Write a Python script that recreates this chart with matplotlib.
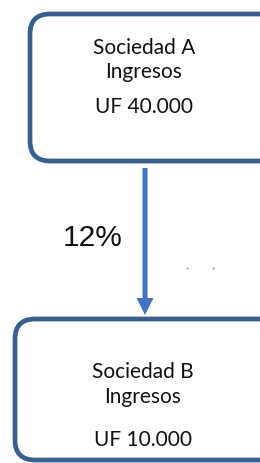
import matplotlib.pyplot as plt
from matplotlib.patches import FancyBboxPatch, FancyArrow

# datos del diagrama
box_titles = ["Sociedad A", "Sociedad B"]
box_subtitles = ["Ingresos", "Ingresos"]
box_values = ["UF 40.000", "UF 10.000"]
flow_label = "12%"

BORDER = "#3A5E8D"
ARROW = "#4472C4"


def draw_box(ax, x0, y0, x1, y1, title, sub, value, ys):
    box = FancyBboxPatch((x0, y0), x1 - x0, y1 - y0,
                         boxstyle="round,pad=0,rounding_size=20",
                         fc="white", ec=BORDER, lw=3.4)
    ax.add_patch(box)
    cx = ys[0]
    ax.text(cx, ys[1], title, ha="center", va="center", fontsize=15,
            family="Lato", color="#111111")
    ax.text(cx, ys[2], sub, ha="center", va="center", fontsize=15,
            family="Lato", color="#111111")
    ax.text(cx, ys[3], value, ha="center", va="center", fontsize=15,
            family="Lato", color="#111111")


def main():
    fig = plt.figure(figsize=(2.6, 4.63), dpi=100)
    ax = fig.add_axes([0, 0, 1, 1])
    ax.set_xlim(0, 260)
    ax.set_ylim(463, 0)
    ax.axis("off")

    draw_box(ax, 30, 14, 282, 161, box_titles[0], box_subtitles[0], box_values[0],
             (144, 48, 72, 107))
    draw_box(ax, 15, 319, 282, 460, box_titles[1], box_subtitles[1], box_values[1],
             (143, 372, 397, 440))

    # flecha
    ax.add_patch(FancyArrow(145, 168, 0, 130, width=5, head_width=17,
                            head_length=17, length_includes_head=False,
                            fc=ARROW, ec=ARROW, lw=0))
    ax.text(93, 238, flow_label, ha="center", va="center", fontsize=21.5,
            family="Liberation Sans", color="#111111")

    # puntitos sueltos
    ax.plot([187, 213], [268, 268], ls="none", marker="s", ms=0.6,
            color="#aaaaaa")

    fig.savefig("out.png", dpi=100)


if __name__ == '__main__':
    main()
